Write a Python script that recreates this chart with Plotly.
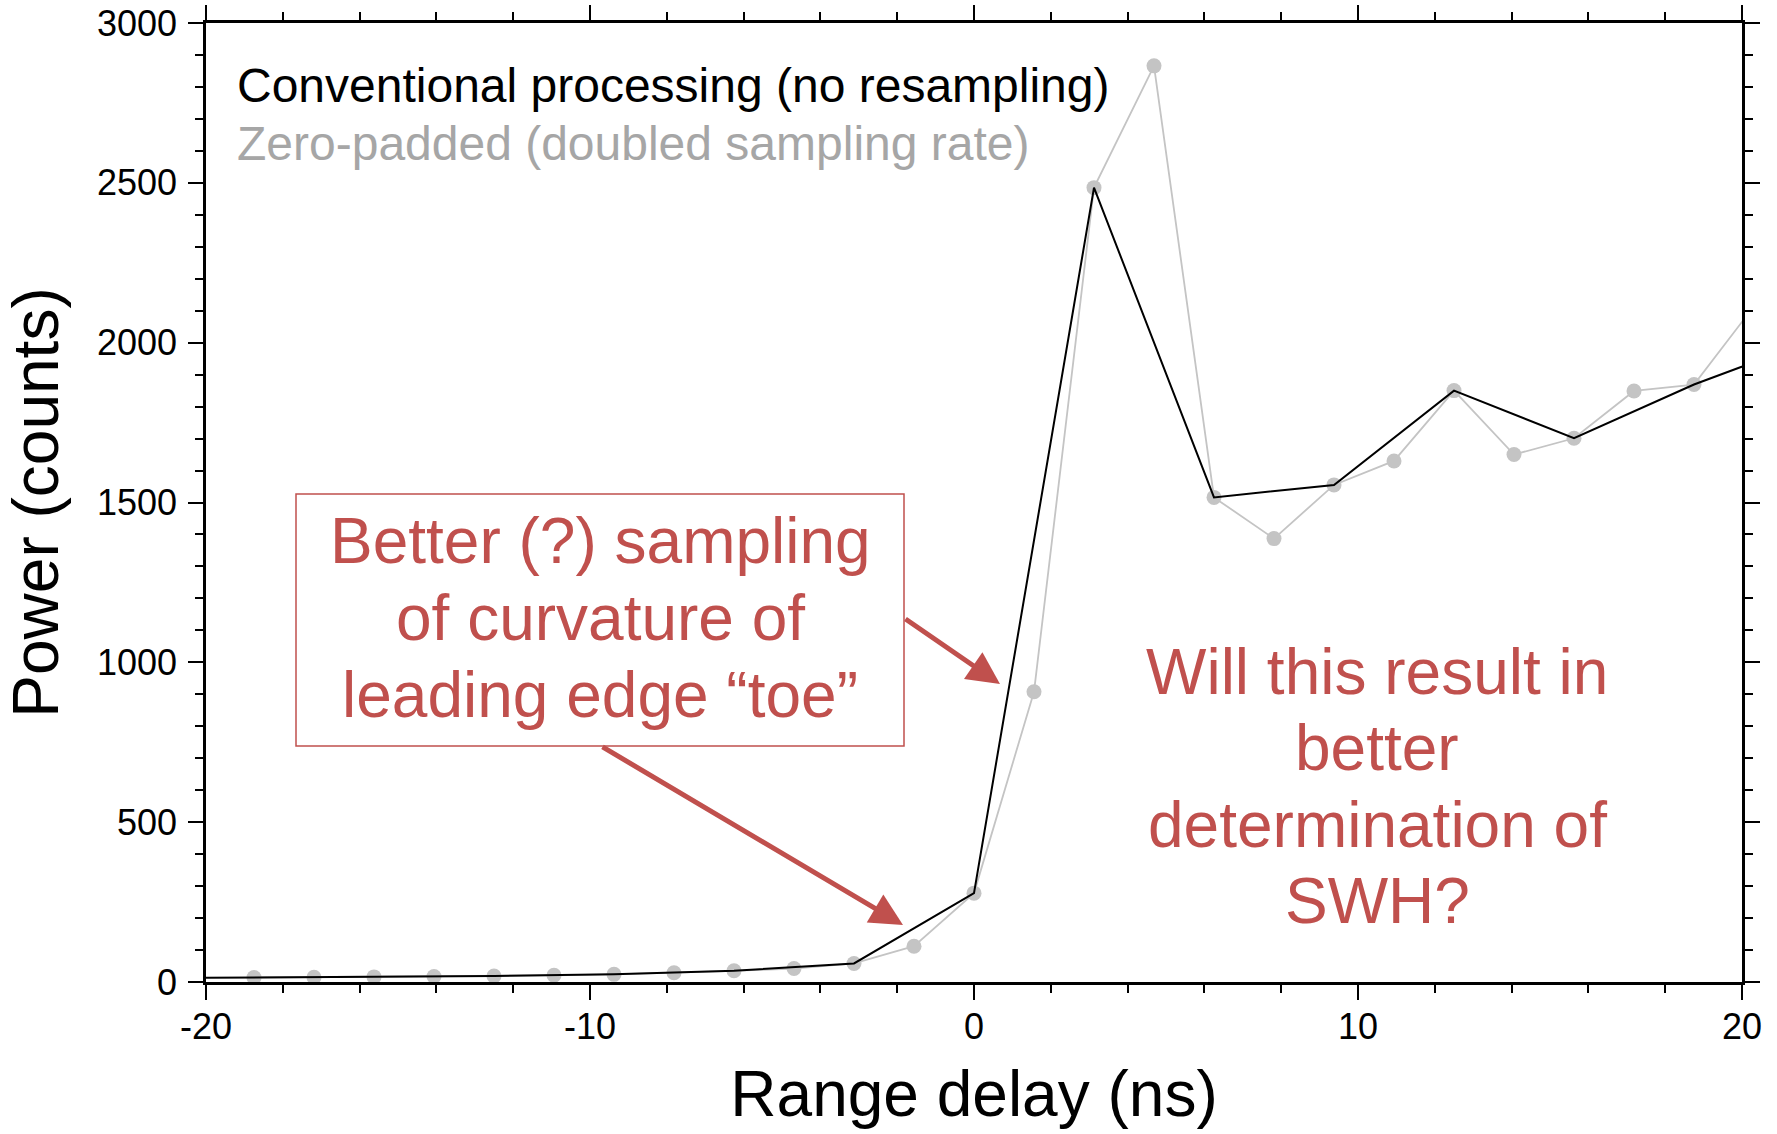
import plotly.graph_objects as go

# ---------------- data ----------------
zp_delay = [-18.75, -17.1875, -15.625, -14.0625, -12.5, -10.9375, -9.375, -7.8125,
            -6.25, -4.6875, -3.125, -1.5625, 0.0, 1.5625, 3.125, 4.6875, 6.25,
            7.8125, 9.375, 10.9375, 12.5, 14.0625, 15.625, 17.1875, 18.75, 20.3125]
zp_power = [14, 15, 16, 17, 19, 21, 24, 29, 35, 42, 58, 112, 278, 908, 2485, 2866,
            1516, 1387, 1555, 1630, 1850, 1650, 1701, 1849, 1869, 2114]

conv_delay = [-21.875, -18.75, -15.625, -12.5, -9.375, -6.25, -3.125, 0.0, 3.125,
              6.25, 9.375, 12.5, 15.625, 18.75, 21.875]
conv_power = [12, 14, 16, 19, 24, 35, 58, 278, 2485, 1516, 1555, 1850, 1701, 1869, 2009]

x_range = [-20, 20]
y_range = [0, 3000]
x_ticks = [-20, -10, 0, 10, 20]
x_ticktext = ["-20", "-10", "0", "10", "20"]
y_ticks = [0, 500, 1000, 1500, 2000, 2500, 3000]
y_ticktext = ["0", "500", "1000", "1500", "2000", "2500", "3000"]

legend_lines = ["Conventional processing (no resampling)", "Zero-padded (doubled sampling rate)"]
box_lines = ["Better (?) sampling", "of curvature of", "leading edge \u201ctoe\u201d"]
question_lines = ["Will this result in", "better", "determination of", "SWH?"]

# ---------------- layout geometry (pixels) ----------------
W, H = 1777, 1134
L, R, T, B = 206, 1742, 23, 982
RED = "#C0504D"
FONT = "Liberation Sans, Arial, Helvetica, sans-serif"


def dx(px):
    return x_range[0] + (px - L) / (R - L) * (x_range[1] - x_range[0])


def dy(py):
    return y_range[0] + (B - py) / (B - T) * (y_range[1] - y_range[0])


fig = go.Figure()
fig.add_trace(go.Scatter(x=zp_delay, y=zp_power, mode="lines+markers",
                         line=dict(color="#C4C4C4", width=1.8),
                         marker=dict(color="#C4C4C4", size=15),
                         name=legend_lines[1], showlegend=False))
fig.add_trace(go.Scatter(x=conv_delay, y=conv_power, mode="lines",
                         line=dict(color="black", width=2),
                         name=legend_lines[0], showlegend=False))

annotations = []
# legend text
annotations.append(dict(x=dx(235), y=dy(85), xref="x", yref="y", text=legend_lines[0],
                        showarrow=False, xanchor="left", yanchor="middle",
                        font=dict(family=FONT, size=48, color="black")))
annotations.append(dict(x=dx(235), y=dy(143), xref="x", yref="y", text=legend_lines[1],
                        showarrow=False, xanchor="left", yanchor="middle",
                        font=dict(family=FONT, size=48, color="#A6A6A6")))
# box text
for i, t in enumerate(box_lines):
    annotations.append(dict(x=dx(600), y=dy(541 + 77 * i), xref="x", yref="y", text=t,
                            showarrow=False, xanchor="center", yanchor="middle",
                            font=dict(family=FONT, size=64, color=RED)))
# question text
for i, t in enumerate(question_lines):
    annotations.append(dict(x=dx(1377), y=dy(672 + 76.3 * i), xref="x", yref="y", text=t,
                            showarrow=False, xanchor="center", yanchor="middle",
                            font=dict(family=FONT, size=64, color=RED)))
# arrows
for (tx, ty), (hx, hy) in [((904, 618), (1000, 684)), ((601, 746), (903, 925))]:
    annotations.append(dict(x=dx(hx), y=dy(hy), ax=dx(tx), ay=dy(ty),
                            xref="x", yref="y", axref="x", ayref="y", text="",
                            showarrow=True, arrowhead=2, arrowsize=1.3, arrowwidth=5,
                            arrowcolor=RED, standoff=0, startstandoff=0))

fig.add_shape(type="rect", xref="x", yref="y", x0=dx(296), x1=dx(904), y0=dy(746), y1=dy(494),
              line=dict(color=RED, width=1.5), fillcolor="white", layer="below")

axis_common = dict(showline=True, linecolor="black", linewidth=2.5, mirror="ticks",
                   ticks="outside", ticklen=15, tickwidth=2, tickcolor="black",
                   showgrid=False, zeroline=False, automargin=False,
                   tickfont=dict(family=FONT, size=36, color="black"))

fig.update_layout(
    width=W, height=H,
    margin=dict(l=L, r=W - R, t=T, b=H - B),
    paper_bgcolor="white", plot_bgcolor="white",
    showlegend=False,
    annotations=annotations,
    xaxis=dict(range=x_range, tickvals=x_ticks, ticktext=x_ticktext, ticklabelstandoff=-4,
               minor=dict(dtick=2, ticklen=8, tickwidth=2, ticks="outside", tickcolor="black"),
               title=dict(text="Range delay (ns)", font=dict(family=FONT, size=64, color="black"),
                          standoff=26),
               **axis_common),
    yaxis=dict(range=y_range, tickvals=y_ticks, ticktext=y_ticktext, ticklabelstandoff=4,
               minor=dict(dtick=100, ticklen=8, tickwidth=2, ticks="outside", tickcolor="black"),
               title=dict(text="Power (counts)", font=dict(family=FONT, size=64, color="black"),
                          standoff=20),
               **axis_common),
)

fig.write_html("out.html")
